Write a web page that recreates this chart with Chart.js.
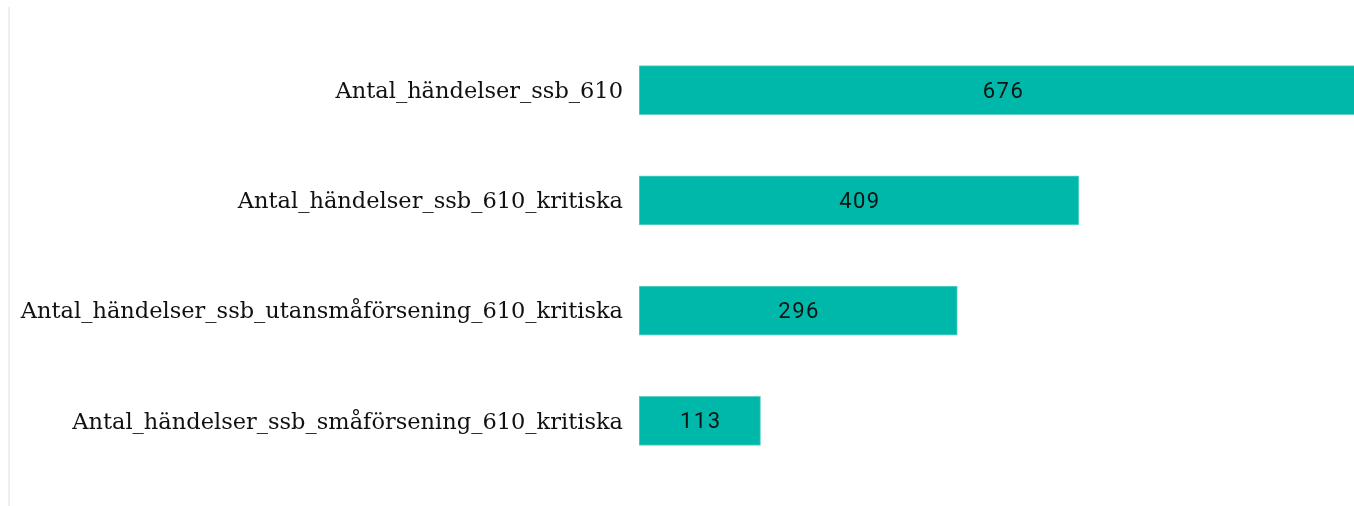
<!DOCTYPE html>
<html>
<head>
<meta charset="utf-8">
<script src="https://cdn.jsdelivr.net/npm/chart.js"></script>
<style>
  html, body { margin: 0; padding: 0; background: #fff; overflow: hidden; }
  #wrap { position: absolute; left: 0; top: 0; width: 1368px; height: 506px; }
  #edge { position: absolute; left: 8px; top: 7px; width: 2px; height: 499px; background: #eeeeee; }
</style>
</head>
<body>
<div id="wrap"><canvas id="myChart"></canvas></div>
<div id="edge"></div>
<script>
// 카테고리 / 값
const categories = [
  'Antal_händelser_ssb_610',
  'Antal_händelser_ssb_610_kritiska',
  'Antal_händelser_ssb_utansmåförsening_610_kritiska',
  'Antal_händelser_ssb_småförsening_610_kritiska'
];
const values = [676, 409, 296, 113];

// 막대 안에 값 표시
const valueLabels = {
  id: 'valueLabels',
  afterDatasetsDraw(chart) {
    const ctx = chart.ctx;
    const meta = chart.getDatasetMeta(0);
    ctx.save();
    ctx.font = '22px Roboto';
    ctx.letterSpacing = '1.5px';
    ctx.fillStyle = '#0a1414';
    ctx.textAlign = 'center';
    ctx.textBaseline = 'middle';
    meta.data.forEach((bar, i) => {
      ctx.fillText(String(values[i]), (bar.x + bar.base) / 2 + 1, bar.y + 2);
    });
    ctx.restore();
  }
};

let ctx = document.getElementById('myChart').getContext('2d');
let myChart = new Chart(ctx, {
  type: 'bar',
  data: {
    labels: categories,
    datasets: [{
      data: values,
      backgroundColor: '#00b8a9',
      borderColor: '#5fd3c9',
      borderWidth: 1,
      borderSkipped: false,
      barThickness: 49
    }]
  },
  options: {
    indexAxis: 'y',
    responsive: true,
    maintainAspectRatio: false,
    animation: false,
    layout: { padding: { top: 35, bottom: 30, left: 0, right: 2 } },
    plugins: { legend: { display: false }, tooltip: { enabled: false } },
    scales: {
      x: { display: false, min: 0, max: 676 },
      y: {
        grid: { display: false },
        border: { display: false },
        ticks: {
          color: '#111111',
          padding: 8,
          labelOffset: 2,
          font: { family: 'DejaVu Serif', size: 22.5 }
        },
        afterFit(scale) { scale.width = 639; }
      }
    }
  },
  plugins: [valueLabels]
});
</script>
</body>
</html>
